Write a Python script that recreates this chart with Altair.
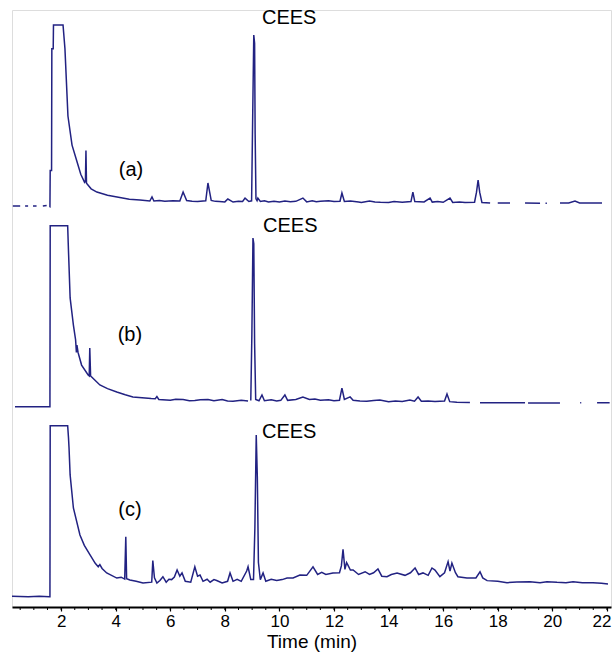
import altair as alt
import pandas as pd

N = None
# ---- Trace (a): time (min), response (% of full scale) ----
a_t = [0.23, 0.50, 0.55, 0.68, 0.79, 0.85, 0.97, 1.10, 1.20, 1.33, 1.47, 1.52,
       1.58, 1.59, 1.60, 1.65, 1.66, 1.71, 1.72, 2.07, 2.14, 2.25, 2.40, 2.58, 2.72, 2.86, 2.89, 2.91, 2.93,
       3.10, 3.31, 3.70, 4.05, 4.50, 4.89, 5.25, 5.33, 5.40, 5.60, 5.80, 6.10, 6.35, 6.47, 6.60, 6.80, 7.00,
       7.30, 7.38, 7.50, 7.65, 7.80, 8.00, 8.11, 8.30, 8.50, 8.65, 8.74, 8.88, 8.98, 9.02, 9.06, 9.09, 9.11,
       9.14, 9.18, 9.21, 9.30, 9.45, 9.60, 9.80, 10.0, 10.2, 10.4, 10.6, 10.86, 11.0, 11.2, 11.35, 11.5, 11.8,
       12.0, 12.22, 12.29, 12.38, 12.6, 12.9, 13.0, 13.3, 13.5, 13.7, 14.0, 14.2, 14.5, 14.82, 14.89,
       14.96, 15.3, 15.52, 15.6, 15.8, 16.0, 16.25, 16.35, 16.6, 16.8, 17.15, 17.22, 17.28, 17.34, 17.42,
       17.72, 17.8, 18.0, 18.45, 18.55, 19.0, 19.55, 19.6, 19.75, 19.8, 19.85, 20.28, 20.6, 20.83, 21.0, 21.82]
a_v = [0.5, 0.5, N, 0.5, 0.5, N, 0.5, 0.5, N, 0.5, 0.8, N,
       0, 0, 20, 20, 87, 87, 100, 100, 87, 50, 34, 25, 18, 13.5, 14, 31, 13,
       10, 8.2, 6.5, 5.5, 4.3, 3.8, 3.3, 5.5, 3.3, 3.6, 3.1, 3.5, 3.3, 8.2, 3.6, 3.2, 3.0,
       3.4, 13.2, 3.6, 3.1, 3.0, 2.8, 4.4, 2.7, 3.2, 3.0, 4.9, 3.0, 3.4, 50, 94.5, 90, 40,
       4.5, 3.5, 4.9, 3.0, 3.4, 2.8, 3.2, 2.8, 3.3, 2.9, 3.1, 4.9, 2.8, 3.4, 2.9, 3.1, 3.4,
       3.0, 3.2, 7.7, 3.0, 3.3, 2.7, 2.5, 3.3, 2.8, 2.6, 2.5, 3.0, 2.6, 3.0, 8.2,
       3.0, 2.8, 4.9, 2.7, 3.0, 2.6, 4.9, 2.5, 2.8, 2.5, 2.6, 8.0, 14.8, 8.0, 2.5,
       2.2, N, 2.2, 2.2, N, 2.2, 2.0, N, 2.0, 2.0, N, 2.2, 2.2, 3.3, 2.2, 2.2]

# ---- Trace (b) ----
b_t = [0.31, 1.57, 1.59, 1.60, 2.24, 2.26, 2.33, 2.45, 2.53, 2.56, 2.58, 2.62, 2.75, 2.99, 3.03, 3.05, 3.08,
       3.12, 3.42, 3.70, 4.04, 4.35, 4.63, 5.30, 5.45, 5.51, 5.58, 6.0, 6.2, 6.47, 6.7, 6.9, 7.1, 7.38, 7.6,
       7.9, 8.1, 8.3, 8.6, 8.85, 8.9, 8.95, 8.99, 9.03, 9.06, 9.09, 9.13, 9.25, 9.36, 9.45, 9.7, 9.9, 10.05,
       10.2, 10.3, 10.6, 10.86, 11.1, 11.3, 11.5, 11.8, 12.0, 12.2, 12.29, 12.38, 12.59, 12.7, 12.95, 13.2,
       13.45, 13.68, 14.0, 14.25, 14.5, 14.78, 14.95, 15.08, 15.2, 15.45, 15.7, 16.05, 16.14, 16.24, 16.5,
       16.98, 17.05, 17.35, 19.0, 19.05, 19.11, 20.28, 20.35, 21.02, 21.06, 21.1, 21.64, 22.1]
b_v = [0, 0, 0, 100, 100, 90.4, 60.1, 45.1, 37, 30, 34, 30, 23.0, 17.5, 17, 32.4, 17,
       16.4, 12.0, 10, 8.1, 6.6, 5.4, 4.5, 4.4, 5.6, 4.0, 3.6, 4.1, 4.0, 3.3, 3.4, 3.9, 4.0, 3.3,
       4.0, 3.2, 3.0, 3.5, 3.2, N, 3.4, 40, 93.2, 90, 35, 4, 3.3, 6.5, 3.3, 3.8, 3.2, 3.5,
       6.5, 3.5, 4.0, 5.4, 4.0, 4.3, 3.6, 3.9, 3.3, 3.6, 10.3, 4, 5.4, 3.6, 3.2, 3.0,
       3.4, 3.7, 2.8, 3.1, 2.9, 3.7, 3.0, 5.4, 3.0, 3.2, 2.9, 3.2, 7.0, 2.8, 2.4,
       2.3, N, 2.2, 2.2, N, 2.0, 2.1, N, 2.2, 2.2, N, 2.2, 2.2]

# ---- Trace (c) ----
c_t = [0.2, 0.8, 1.2, 1.57, 1.59, 1.60, 2.24, 2.27, 2.29, 2.33, 2.45, 2.69, 2.85, 3.06, 3.25, 3.36, 3.42,
       3.5, 3.67, 4.04, 4.2, 4.33, 4.37, 4.40, 4.52, 4.75, 5.0, 5.32, 5.36, 5.42, 5.51, 5.62, 5.73, 5.85,
       5.95, 6.05, 6.15, 6.25, 6.35, 6.43, 6.55, 6.75, 6.9, 7.0, 7.09, 7.2, 7.35, 7.46, 7.6, 7.7, 7.9, 8.1,
       8.19, 8.3, 8.45, 8.6, 8.8, 8.85, 8.95, 9.05, 9.1, 9.15, 9.19, 9.23, 9.3, 9.4, 9.5, 9.7, 9.9, 10.1,
       10.28, 10.5, 10.75, 11.0, 11.23, 11.4, 11.55, 11.7, 11.96, 12.2, 12.27, 12.33, 12.4, 12.46, 12.51,
       12.6, 12.7, 12.9, 13.14, 13.3, 13.45, 13.61, 13.75, 13.94, 14.1, 14.31, 14.6, 14.8, 14.97, 15.1,
       15.26, 15.45, 15.59, 15.7, 15.88, 16.05, 16.18, 16.25, 16.32, 16.45, 16.54, 16.87, 17.2, 17.35,
       17.45, 17.61, 18.0, 18.34, 18.7, 19.18, 19.55, 19.8, 20.17, 20.5, 20.76, 21.1, 21.49, 21.8, 22.04]
c_v = [0.3, 0, 0.3, 0, 0, 100, 100, 93, 87, 71.2, 51.9, 36.1, 30, 24.4, 19.5, 17.5, 18.8,
       16.5, 13.9, 10.9, 11.4, 10.3, 35.1, 10.5, 9.8, 9.0, 8.0, 8.5, 21.1, 11, 8.0, 9.5, 11.7, 8.5,
       10.2, 10, 11.5, 15.6, 12, 13.9, 9, 8.5, 17.5, 12, 12.7, 9, 10.2, 8.5, 10.0, 9.5, 8.0, 9,
       13.9, 9, 10.2, 9, 15, 17.5, 10, 10, 40, 94.6, 70, 20, 10, 13.9, 9, 10.2, 9.5, 10.0,
       10.9, 11, 12.7, 12.5, 17.5, 13, 14.2, 13, 13.9, 14, 18, 27.7, 16, 20, 18.5,
       15.6, 15.6, 13, 14.6, 13, 14, 16.2, 12, 11.7, 13, 13.9, 12.5, 14.0, 16.8, 13,
       13.9, 12.5, 16.8, 15.6, 11.7, 14, 20.5, 15, 19.7, 14, 11.7, 11, 11, 14.6,
       11, 9.4, 9, 8.2, 8.6, 8.8, 8.2, 8.8, 8.4, 8.2, 8.8, 8.2, 8.2, 7.8, 7.4]

# ---- Annotations ----
cees_sample = ["a", "b", "c"]
cees_t = [9.36, 9.40, 9.36]
cees_v = [103.8, 99.8, 96.3]
tag_sample = ["a", "b", "c"]
tag_text = ["(a)", "(b)", "(c)"]
tag_t = [4.56, 4.52, 4.52]
tag_v = [20.3, 39.6, 50.7]

major_ticks = [2, 4, 6, 8, 10, 12, 14, 16, 18, 20, 22]
minor_ticks = [x / 2 for x in range(1, 45)]

frames = []
for s, tt, vv in (("a", a_t, a_v), ("b", b_t, b_v), ("c", c_t, c_v)):
    frames.append(pd.DataFrame({"t": tt, "v": [float("nan") if v is None else v for v in vv], "sample": s}))
traces = pd.concat(frames, ignore_index=True)

# stacking layout: baseline offset and full-scale height of each trace (in plot units)
stack_expr = ("isValid(datum.v) && isFinite(datum.v) ? "
              "(datum.sample == 'a' ? 400 + datum.v * 1.82 : "
              "datum.sample == 'b' ? 200.3 + datum.v * 1.81 : 10.3 + datum.v * 1.71) : null")

xscale = alt.Scale(domain=[0.2, 22.15], nice=False, zero=False)
yscale = alt.Scale(domain=[0, 597], nice=False, zero=False)

lines = alt.Chart(traces).transform_calculate(y=stack_expr).mark_line(
    color="#222282", strokeWidth=1.5, invalid="break-paths-show-domains"
).encode(
    x=alt.X("t:Q", scale=xscale, axis=alt.Axis(
        title="Time (min)", values=major_ticks, grid=False, domainColor="black", domainWidth=2,
        tickColor="black", tickSize=4, tickWidth=1.2, labelFontSize=17, labelFont="Liberation Sans",
        labelColor="black", labelPadding=2, titleFontSize=19, titleFont="Liberation Sans",
        titleFontWeight="normal", titleColor="black", titlePadding=3,
        labelFlush=10, labelFlushOffset=4)),
    y=alt.Y("y:Q", scale=yscale, axis=None),
    detail="sample:N",
    order="t:Q",
)

cees_df = pd.DataFrame({"t": cees_t, "v": cees_v, "sample": cees_sample, "label": "CEES"})
cees = alt.Chart(cees_df).transform_calculate(y=stack_expr).mark_text(
    align="left", baseline="middle", fontSize=20, font="Liberation Sans", color="black"
).encode(x=alt.X("t:Q", scale=xscale), y=alt.Y("y:Q", scale=yscale), text="label:N")

tag_df = pd.DataFrame({"t": tag_t, "v": tag_v, "sample": tag_sample, "label": tag_text})
tags = alt.Chart(tag_df).transform_calculate(y=stack_expr).mark_text(
    align="center", baseline="middle", fontSize=20, font="Liberation Sans", color="black"
).encode(x=alt.X("t:Q", scale=xscale), y=alt.Y("y:Q", scale=yscale), text="label:N")

minor = alt.Chart(pd.DataFrame({"t": minor_ticks})).mark_rule(color="black", strokeWidth=1).encode(
    x=alt.X("t:Q", scale=xscale), y=alt.value(597), y2=alt.value(600)
)

chart = alt.layer(lines, minor, cees, tags).properties(
    width=599, height=597,
    autosize=alt.AutoSizeParams(type="none"),
    padding={"left": 12, "top": 10, "right": 4, "bottom": 49},
).configure_view(stroke=None).configure(background="white")

chart.save("out.html", embed_options={"renderer": "svg", "actions": False})
